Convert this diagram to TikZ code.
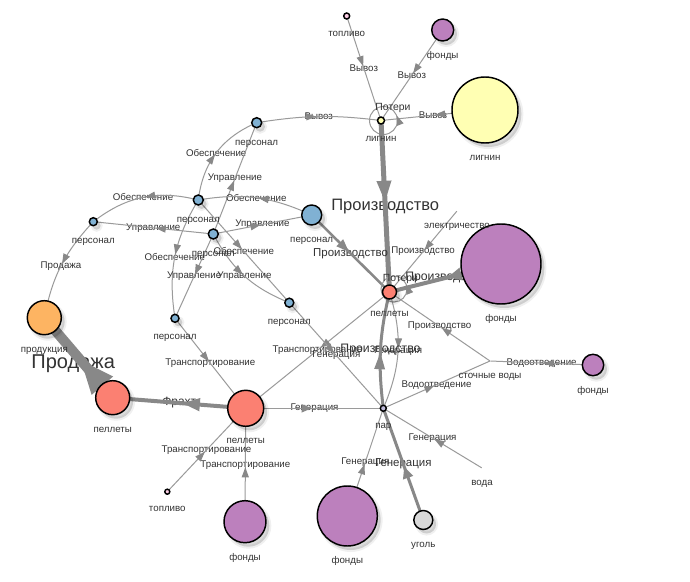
\documentclass[tikz,border=0pt]{standalone}
\usepackage{fontspec}
\setmainfont{Liberation Sans}
\usetikzlibrary{calc,arrows.meta,decorations.markings}

\definecolor{fundc}{HTML}{BC80BD}
\definecolor{lignc}{HTML}{FFFFB3}
\definecolor{pellc}{HTML}{FB8072}
\definecolor{staffc}{HTML}{80B1D3}
\definecolor{prodc}{HTML}{FDB462}
\definecolor{coalc}{HTML}{D9D9D9}
\definecolor{steamc}{HTML}{BEBADA}
\definecolor{fuelc}{HTML}{FCCDE5}
\definecolor{linkgray}{HTML}{9A9A9A}
\definecolor{arrowgray}{HTML}{888888}
\definecolor{txt}{HTML}{333333}

\pgfdeclarelayer{bg}
\pgfdeclarelayer{links}
\pgfsetlayers{bg,links,main}

\tikzset{
  dot/.style={circle,draw=black,line width=1.1pt,inner sep=0pt,minimum size=1.5pt*#1},
  res/.style={dot=#1,
    preaction={draw=black,draw opacity=0.06,line width=3pt,transform canvas={xshift=2.5pt,yshift=-3pt}},
    preaction={fill=black,fill opacity=0.14,transform canvas={xshift=2.5pt,yshift=-3pt}}},
  tap/.style={inner sep=0pt,minimum size=0pt},
  nlbl/.style={font=\fontsize{7.3}{8}\selectfont,text=txt,inner sep=0pt,text height=0.55em,text depth=0.2em},
  tlbl/.style={font=\fontsize{#1}{#1}\selectfont,text=txt,inner sep=0pt},
  tlbl/.default=7.3,
  elbl/.style={tlbl=#1,behind path},
  elbl/.default=7.3,
  link/.style={draw=linkgray,line width=0.75pt},
  fat/.style={draw=arrowgray,line width=#1},
  tip/.style 2 args={postaction={decorate,decoration={markings,
      mark=at position 0.48 with {\arrow{Triangle[length=#1,width=#2,color=arrowgray]}}}}},
  thin tip/.style={tip={7.5pt}{5.25pt}},
  loop tip/.style={postaction={decorate,decoration={markings,
      mark=at position 0.94 with {\arrowreversed{Triangle[length=7.5pt,width=5.25pt,color=arrowgray]}}}}}
}

\begin{document}
\begin{tikzpicture}[x=0.75pt,y=-0.75pt,label distance=7pt]
  \useasboundingbox (0,0) rectangle (690,582);
  \begin{pgfonlayer}{bg}
    \fill[white] (0,0) rectangle (690,582);
  \end{pgfonlayer}

  \node[dot=3,fill=fuelc,label={[nlbl]below:топливо}] (fuelA) at (346.7,16) {};
  \node[res=11,fill=fundc,label={[nlbl]below:фонды}] (fundA) at (442.7,30) {};
  \node[dot=3.5,fill=lignc,label={[nlbl]below:лигнин}] (lignS) at (381,120.5) {};
  \node[res=33,fill=lignc,label={[nlbl]below:лигнин}] (lignB) at (485,110) {};
  \node[res=5,fill=staffc,label={[nlbl]below:персонал}] (staff1) at (256.7,122.7) {};
  \node[res=5,fill=staffc,label={[nlbl]below:персонал}] (staff2) at (198.3,200) {};
  \node[res=5,fill=staffc,label={[nlbl]below:персонал}] (staff3) at (213.3,234) {};
  \node[res=4,fill=staffc,label={[nlbl]below:персонал}] (staff4) at (93.3,221.7) {};
  \node[res=10,fill=staffc,label={[nlbl]below:персонал}] (staff5) at (311.7,215) {};
  \node[res=4.5,fill=staffc,label={[nlbl]below:персонал}] (staff6) at (289.3,302.7) {};
  \node[res=4,fill=staffc,label={[nlbl]below:персонал}] (staff7) at (175,318.3) {};
  \node[res=17,fill=prodc,label={[nlbl]below:продукция}] (prod) at (44.3,317.7) {};
  \node[res=17,fill=pellc,label={[nlbl]below:пеллеты}] (pellL) at (112.7,397.7) {};
  \node[res=18,fill=pellc,label={[nlbl]below:пеллеты}] (pellC) at (245.7,408.3) {};
  \node[res=7,fill=pellc,label={[nlbl]below:пеллеты}] (pellT) at (389.5,292) {};
  \node[res=40,fill=fundc,label={[nlbl]below:фонды}] (fundR) at (501,264) {};
  \node[tap,label={[nlbl]below:электричество}] (elec) at (457,211) {};
  \node[tap,label={[nlbl]below:сточные воды}] (sewage) at (490,361) {};
  \node[res=10.7,fill=fundc,label={[nlbl]below:фонды}] (fundS) at (593,365) {};
  \node[dot=3,fill=steamc,label={[nlbl]below:пар}] (steam) at (383.3,408.3) {};
  \node[tap,label={[nlbl]below:вода}] (water) at (482,468) {};
  \node[res=9.5,fill=coalc,label={[nlbl]below:уголь}] (coal) at (423.3,520) {};
  \node[res=30,fill=fundc,label={[nlbl]below:фонды}] (fundB) at (347.3,516) {};
  \node[res=21,fill=fundc,label={[nlbl]below:фонды}] (fundBL) at (245,521.7) {};
  \node[dot=2.5,fill=fuelc,label={[nlbl]below:топливо}] (fuelB) at (167.3,491.7) {};

  \node[tlbl=7.8] (lossA) at ($(lignS)+(12,-12.5)$) {Потери};
  \node[tlbl=7.8] (lossB) at ($(pellT)+(11,-13)$) {Потери};

  \begin{pgfonlayer}{links}
    \draw[link,thin tip] (fuelA.center) -- node[elbl]{Вывоз} (lignS.center);
    \draw[link,thin tip] (fundA.center) -- node[elbl]{Вывоз} (lignS.center);
    \draw[link,thin tip] (staff1.center) to[bend left=8] node[elbl]{Вывоз} (lignS.center);
    \draw[link,thin tip] (lignB.center) -- node[elbl]{Вывоз} (lignS.center);
    \draw[link,loop tip] ($(lignS)+(2.5,0)$) circle[radius=14];

    \draw[fat=3.75pt,tip={16.5pt}{10pt}] (lignS.center) -- node[elbl=12.4]{Производство} (pellT.center);
    \draw[fat=1.9pt,tip={9.75pt}{6.75pt}] (staff5.center) -- node[elbl=8.6]{Производство} (pellT.center);
    \draw[link,thin tip] (elec) -- node[elbl]{Производство} (pellT.center);
    \draw[fat=3pt,tip={10.5pt}{9pt}] (fundR.center) -- node[elbl=9.2]{Производство} (pellT.center);
    \draw[link,loop tip] ($(pellT)+(4.5,-3)$) circle[radius=13];
    \draw[link,thin tip] (sewage) -- node[elbl]{Производство} (pellT.center);
    \draw[link,thin tip] (pellT.center) to[bend left=20] node[elbl]{Генерация} (steam.center);
    \draw[fat=2.25pt,tip={12.75pt}{7.5pt}] (steam.center) to[bend left=10] node[elbl=9.2]{Производство} (pellT.center);
    \draw[link,thin tip] (pellT.center) -- node[elbl]{Транспортирование} (pellC.center);

    \draw[link,thin tip] (staff6.center) -- node[elbl]{Генерация} (steam.center);
    \draw[link,line width=1.1pt,tip={7.5pt}{6pt}] (pellC.center) -- node[elbl]{Генерация} (steam.center);
    \draw[link,thin tip] (steam.center) -- node[elbl]{Водоотведение} (sewage);
    \draw[link,thin tip] (fundS.center) -- node[elbl]{Водоотведение} (sewage);
    \draw[link,thin tip] (water) -- node[elbl]{Генерация} (steam.center);
    \draw[fat=2.25pt,tip={9pt}{7.5pt}] (coal.center) -- node[elbl=8.6]{Генерация} (steam.center);
    \draw[link,thin tip] (fundB.center) -- node[elbl]{Генерация} (steam.center);

    \draw[link,thin tip] (fundBL.center) -- node[elbl]{Транспортирование} (pellC.center);
    \draw[link,thin tip] (fuelB.center) -- node[elbl]{Транспортирование} (pellC.center);
    \draw[link,thin tip] (staff7.center) -- node[elbl]{Транспортирование} (pellC.center);
    \draw[fat=3pt,tip={13.5pt}{9pt}] (pellC.center) -- node[elbl=9]{Фрахт} (pellL.center);
    \draw[fat=7.5pt,tip={26pt}{19pt}] (pellL.center) -- node[elbl=15,xshift=-4pt,yshift=-4.5pt]{Продажа} (prod.center);
    \draw[link,thin tip] (staff4.center) to[bend right=16] node[elbl]{Продажа} (prod.center);

    \draw[link,thin tip] (staff2.center) to[bend left=30] node[elbl]{Обеспечение} (staff1.center);
    \draw[link,thin tip] (staff3.center) -- node[elbl]{Управление} (staff1.center);
    \draw[link,thin tip] (staff2.center) to[bend right=26] node[elbl]{Обеспечение} (staff4.center);
    \draw[link,thin tip] (staff3.center) -- node[elbl]{Управление} (staff4.center);
    \draw[link,thin tip] (staff5.center) to[bend right=17] node[elbl]{Обеспечение} (staff2.center);
    \draw[link,thin tip] (staff3.center) -- node[elbl]{Управление} (staff5.center);
    \draw[link,thin tip] (staff2.center) -- node[elbl]{Обеспечение} (staff6.center);
    \draw[link,thin tip] (staff3.center) to[bend right=20] node[elbl]{Управление} (staff6.center);
    \draw[link,thin tip] (staff2.center) to[bend right=20] node[elbl]{Обеспечение} (staff7.center);
    \draw[link,thin tip] (staff3.center) -- node[elbl]{Управление} (staff7.center);
  \end{pgfonlayer}
\end{tikzpicture}
\end{document}
